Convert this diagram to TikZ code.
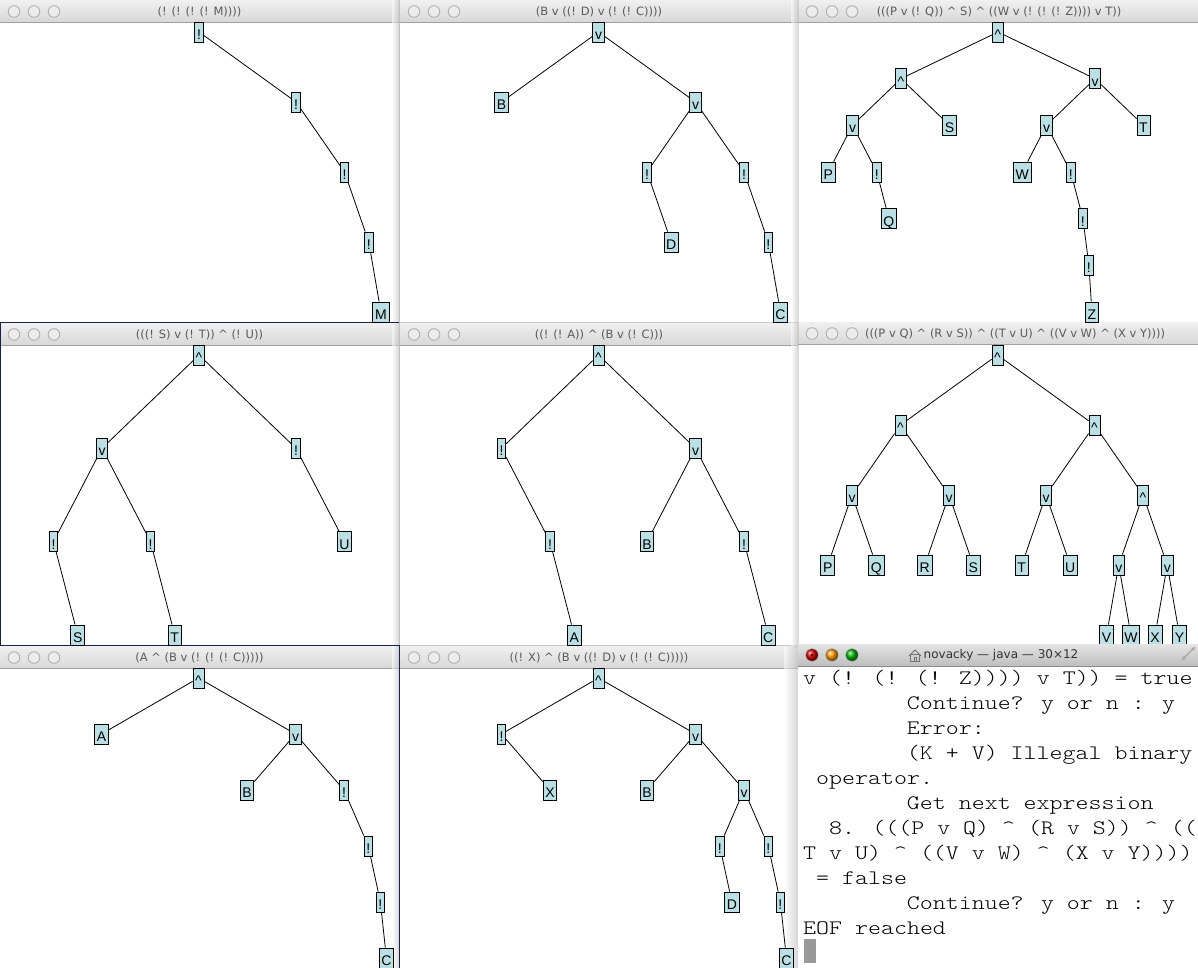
\documentclass[tikz,border=0pt]{standalone}
\usepackage{fontspec}
\setmainfont{DejaVu Sans}
\newfontfamily\nodefont{Liberation Sans}
\newfontfamily\termfont{lmmonolt10-regular.otf}[FakeStretch=1.2]
\usetikzlibrary{arrows.meta}
\definecolor{nodefill}{RGB}{186,224,230}
\definecolor{navy}{RGB}{22,32,84}
\definecolor{tbtop}{RGB}{240,240,240}
\definecolor{tbbot}{RGB}{216,216,216}
\definecolor{tbline}{RGB}{160,160,160}
\definecolor{btnline}{RGB}{175,175,175}
\definecolor{btnfill}{RGB}{236,236,236}
\definecolor{titletext}{RGB}{90,90,90}
\definecolor{desk}{RGB}{200,200,200}
\newcommand\drawwin[7]{%
  \fill[white] (#1,#2) rectangle ++(#3,#4);
  \shade[top color=tbtop, bottom color=tbbot] (#1,#2) rectangle ++(#3,22);
  \draw[tbline, line width=0.8pt] (#1,#2+22.5) -- ++(#3,0);
  \foreach \k in {0,1,2} \draw[btnline, fill=btnfill, line width=0.9pt] (#1+14+20*\k,#2+11.5) circle (5.8);
  \node[wtitle] (#5) at (#7,#2+11.5) {#6};
}
\begin{document}
\begin{tikzpicture}[x=1pt,y=-1pt,
  tn/.style={draw=black, line width=0.8pt, fill=nodefill, font=\nodefont\fontsize{14}{16}\selectfont,
    inner xsep=2.2pt, inner ysep=2.5pt, text height=15pt, text depth=0pt, minimum height=20pt},
  edge/.style={line width=0.8pt, black},
  wtitle/.style={font=\fontsize{11.5}{14}\selectfont, text=titletext, inner sep=0pt},
  tline/.style={font=\termfont\fontsize{20.6}{25}\selectfont, anchor=base west, inner sep=0pt, text=black},
  shadowr/.style={left color=white, right color=black!30, opacity=0.55, draw=none},
]
\useasboundingbox (0,0) rectangle (1198,968);
\fill[desk] (0,0) rectangle (1198,968);

% ---------- windows ----------
\drawwin{0}{0}{399}{322}{t1}{(! (! (! (! M))))}{199.5}
\drawwin{400}{0}{398}{322}{t2}{(B v ((! D) v (! (! C))))}{599}
\drawwin{798}{0}{400}{322}{t3}{(((P v (! Q)) \textasciicircum{} S) \textasciicircum{} ((W v (! (! (! Z)))) v T))}{999}
\drawwin{0}{323}{399}{322}{t4}{(((! S) v (! T)) \textasciicircum{} (! U))}{199.5}
\drawwin{400}{323}{398}{322}{t5}{((! (! A)) \textasciicircum{} (B v (! C)))}{599}
\drawwin{798}{322}{400}{322}{t6}{(((P v Q) \textasciicircum{} (R v S)) \textasciicircum{} ((T v U) \textasciicircum{} ((V v W) \textasciicircum{} (X v Y))))}{1015}
\drawwin{0}{646}{399}{322}{t7}{(A \textasciicircum{} (B v (! (! (! C)))))}{199.5}
\drawwin{400}{646}{398}{322}{t8}{((! X) \textasciicircum{} (B v ((! D) v (! (! C)))))}{599}

% shadows between windows
\shade[shadowr] (392,0) rectangle (399.5,968);
\shade[shadowr] (791,0) rectangle (798.5,646);
\shade[shadowr] (784,646) rectangle (798.5,968);

% desktop gaps
\draw[navy, line width=1pt] (0,322.5) -- (399,322.5);
\draw[navy, line width=1.2pt] (0.6,323) -- (0.6,645);
\draw[navy, line width=1pt] (0,645.5) -- (399.5,645.5);
\draw[navy, line width=1pt] (399.5,646) -- (399.5,968);

% ---------- tree 1 ----------
\node[tn] (a0) at (199,32) {!};
\node[tn] (a1) at (296,102) {!};
\node[tn] (a2) at (344.5,172) {!};
\node[tn] (a3) at (368.75,242) {!};
\node[tn] (a4) at (380.9,312) {M};
\draw[edge] (a0) -- (a1) (a1) -- (a2) (a2) -- (a3) (a3) -- (a4);

% ---------- tree 2 ----------
\node[tn] (b0) at (598.5,32) {v};
\node[tn] (b1) at (501.5,102) {B};
\node[tn] (b2) at (695.5,102) {v};
\node[tn] (b3) at (647,172) {!};
\node[tn] (b4) at (744,172) {!};
\node[tn] (b5) at (671.25,242) {D};
\node[tn] (b6) at (768.25,242) {!};
\node[tn] (b7) at (780.4,312) {C};
\draw[edge] (b0) -- (b1) (b0) -- (b2) (b2) -- (b3) (b2) -- (b4) (b3) -- (b5) (b4) -- (b6) (b6) -- (b7);

% ---------- tree 3 ----------
\node[tn] (c0) at (998,32) {\textasciicircum};
\node[tn] (c1) at (901,78.7) {\textasciicircum};
\node[tn] (c2) at (1095,78.7) {v};
\node[tn] (c3) at (852.5,125.3) {v};
\node[tn] (c4) at (949.5,125.3) {S};
\node[tn] (c5) at (1046.5,125.3) {v};
\node[tn] (c6) at (1143.5,125.3) {T};
\node[tn] (c7) at (828.25,172) {P};
\node[tn] (c8) at (876.75,172) {!};
\node[tn] (c9) at (1022.25,172) {W};
\node[tn] (c10) at (1070.75,172) {!};
\node[tn] (c11) at (888.9,218.7) {Q};
\node[tn] (c12) at (1082.9,218.7) {!};
\node[tn] (c13) at (1088.9,265.3) {!};
\node[tn] (c14) at (1091.9,312) {Z};
\draw[edge] (c0) -- (c1) (c0) -- (c2) (c1) -- (c3) (c1) -- (c4) (c2) -- (c5) (c2) -- (c6)
  (c3) -- (c7) (c3) -- (c8) (c5) -- (c9) (c5) -- (c10) (c8) -- (c11) (c10) -- (c12)
  (c12) -- (c13) (c13) -- (c14);

% ---------- tree 4 ----------
\node[tn] (d0) at (199,355) {\textasciicircum};
\node[tn] (d1) at (102,448.3) {v};
\node[tn] (d2) at (296,448.3) {!};
\node[tn] (d3) at (53.5,541.7) {!};
\node[tn] (d4) at (150.5,541.7) {!};
\node[tn] (d5) at (344.5,541.7) {U};
\node[tn] (d6) at (77.75,635) {S};
\node[tn] (d7) at (174.75,635) {T};
\draw[edge] (d0) -- (d1) (d0) -- (d2) (d1) -- (d3) (d1) -- (d4) (d2) -- (d5) (d3) -- (d6) (d4) -- (d7);

% ---------- tree 5 ----------
\node[tn] (e0) at (598.5,355) {\textasciicircum};
\node[tn] (e1) at (501.5,448.3) {!};
\node[tn] (e2) at (695.5,448.3) {v};
\node[tn] (e3) at (550,541.7) {!};
\node[tn] (e4) at (647,541.7) {B};
\node[tn] (e5) at (744,541.7) {!};
\node[tn] (e6) at (574.25,635) {A};
\node[tn] (e7) at (768.25,635) {C};
\draw[edge] (e0) -- (e1) (e0) -- (e2) (e1) -- (e3) (e2) -- (e4) (e2) -- (e5) (e3) -- (e6) (e5) -- (e7);

% ---------- tree 6 ----------
\node[tn] (f0) at (997.5,355) {\textasciicircum};
\node[tn] (f1) at (900.5,425) {\textasciicircum};
\node[tn] (f2) at (1094.5,425) {\textasciicircum};
\node[tn] (f3) at (852,495) {v};
\node[tn] (f4) at (949,495) {v};
\node[tn] (f5) at (1046,495) {v};
\node[tn] (f6) at (1143,495) {\textasciicircum};
\node[tn] (f7) at (827.75,565) {P};
\node[tn] (f8) at (876.25,565) {Q};
\node[tn] (f9) at (924.75,565) {R};
\node[tn] (f10) at (973.25,565) {S};
\node[tn] (f11) at (1021.75,565) {T};
\node[tn] (f12) at (1070.25,565) {U};
\node[tn] (f13) at (1118.75,565) {v};
\node[tn] (f14) at (1167.25,565) {v};
\node[tn] (f15) at (1106.6,635) {V};
\node[tn] (f16) at (1130.9,635) {W};
\node[tn] (f17) at (1155.1,635) {X};
\node[tn] (f18) at (1179.4,635) {Y};
\draw[edge] (f0) -- (f1) (f0) -- (f2) (f1) -- (f3) (f1) -- (f4) (f2) -- (f5) (f2) -- (f6)
  (f3) -- (f7) (f3) -- (f8) (f4) -- (f9) (f4) -- (f10) (f5) -- (f11) (f5) -- (f12)
  (f6) -- (f13) (f6) -- (f14) (f13) -- (f15) (f13) -- (f16) (f14) -- (f17) (f14) -- (f18);

% ---------- tree 7 ----------
\node[tn] (g0) at (198.5,678) {\textasciicircum};
\node[tn] (g1) at (101.5,734) {A};
\node[tn] (g2) at (295.5,734) {v};
\node[tn] (g3) at (247,790) {B};
\node[tn] (g4) at (344,790) {!};
\node[tn] (g5) at (368.25,846) {!};
\node[tn] (g6) at (380.4,902) {!};
\node[tn] (g7) at (386.4,958) {C};
\draw[edge] (g0) -- (g1) (g0) -- (g2) (g2) -- (g3) (g2) -- (g4) (g4) -- (g5) (g5) -- (g6) (g6) -- (g7);

% ---------- tree 8 ----------
\node[tn] (h0) at (598.5,678) {\textasciicircum};
\node[tn] (h1) at (501.5,734) {!};
\node[tn] (h2) at (695.5,734) {v};
\node[tn] (h3) at (550,790) {X};
\node[tn] (h4) at (647,790) {B};
\node[tn] (h5) at (744,790) {v};
\node[tn] (h6) at (719.75,846) {!};
\node[tn] (h7) at (768.25,846) {!};
\node[tn] (h8) at (731.9,902) {D};
\node[tn] (h9) at (780.4,902) {!};
\node[tn] (h10) at (786.4,958) {C};
\draw[edge] (h0) -- (h1) (h0) -- (h2) (h1) -- (h3) (h2) -- (h4) (h2) -- (h5) (h5) -- (h6) (h5) -- (h7)
  (h6) -- (h8) (h7) -- (h9) (h9) -- (h10);

% ---------- terminal window ----------
\fill[white] (798,644) rectangle (1198,968);
\shade[top color=tbtop!95!black, bottom color=tbbot!88!black] (798,644) rectangle (1198,666);
\draw[black!45, line width=0.8pt] (798,666.5) -- (1198,666.5);
\shade[ball color=red!85!black] (812,655) circle (6.2);
\shade[ball color=orange!80!yellow] (832,655) circle (6.2);
\shade[ball color=green!70!black] (852,655) circle (6.2);
\draw[black!45, line width=0.5pt] (812,655) circle (6.2) (832,655) circle (6.2) (852,655) circle (6.2);
\fill[red!45!black] (812,655) circle (1.6);
% home icon
\draw[black!55, line width=0.8pt, line join=round] (909,656) -- (915,650) -- (921,656);
\draw[black!55, line width=0.8pt] (910.8,654.5) rectangle (919.2,661);
\draw[black!55, line width=0.6pt] (913.8,661) rectangle (916.2,657.5);
\node[anchor=west, inner sep=0pt, font=\fontsize{12}{14}\selectfont, text=black!80] (tt) at (923.5,655.5) {novacky — java — 30×12};
% resize icon
\draw[black!35, line width=1.1pt, {Triangle[length=3.5pt,width=3.5pt]}-{Triangle[length=3.5pt,width=3.5pt]}] (1182,660) -- (1195,647);

\node[tline] (l1) at (803,684.5) {v (! (! (! Z)))) v T)) = true};
\node[tline] (l2) at (906.7,709.5) {Continue? y or n : y};
\node[tline] (l3) at (906.7,734.5) {Error:};
\node[tline] (l4) at (906.7,759.5) {(K + V) Illegal binary};
\node[tline] (l5) at (816,784.5) {operator.};
\node[tline] (l6) at (906.7,809.5) {Get next expression};
\node[tline] (l7) at (828.9,834.5) {8. (((P v Q) \textasciicircum{} (R v S)) \textasciicircum{} ((};
\node[tline] (l8) at (803,859.5) {T v U) \textasciicircum{} ((V v W) \textasciicircum{} (X v Y))))};
\node[tline] (l9) at (816,884.5) {= false};
\node[tline] (l10) at (906.7,909.5) {Continue? y or n : y};
\node[tline] (l11) at (803,934.5) {EOF reached};
\fill[black!40] (804,939) rectangle (816,963);
\end{tikzpicture}
\end{document}
